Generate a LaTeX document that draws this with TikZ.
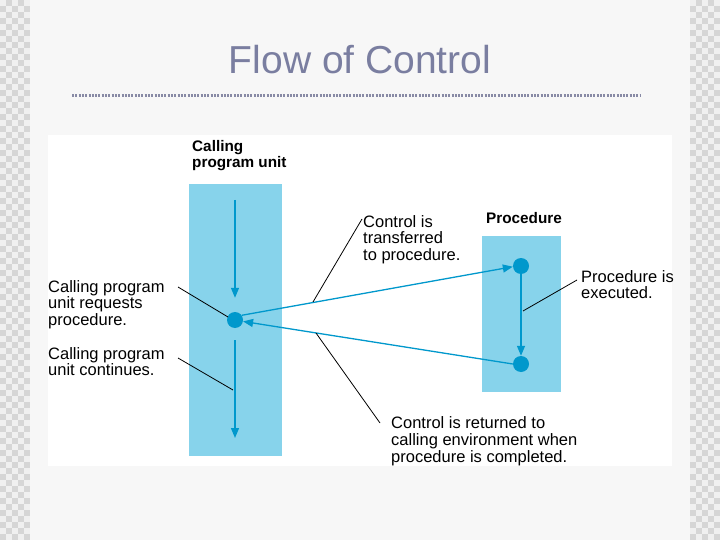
\documentclass[tikz,border=0pt]{standalone}
\usepackage{fontspec}
\setmainfont{Liberation Sans}
\usetikzlibrary{arrows.meta}
\definecolor{slidebg}{RGB}{247,247,247}
\definecolor{chkdark}{RGB}{214,214,214}
\definecolor{chklight}{RGB}{240,240,240}
\definecolor{titlecol}{RGB}{122,126,160}
\definecolor{dotline}{RGB}{136,138,165}
\definecolor{boxblue}{RGB}{135,211,235}
\definecolor{flowblue}{RGB}{0,152,204}
\begin{document}
\begin{tikzpicture}[x=1pt,y=-1pt,
 lbl/.style={font=\fontsize{16.5}{16.7}\selectfont, align=left, inner sep=0pt, anchor=north west},
 hdr/.style={font=\bfseries\fontsize{15.3}{16.2}\selectfont, align=left, inner sep=0pt, anchor=north west},
 leader/.style={draw=black, line width=0.8pt},
 flow/.style={draw=flowblue, line width=1.3pt, -{Triangle[length=10pt,width=8pt]}},
 fdot/.style={circle, fill=flowblue, minimum size=16pt, inner sep=0pt},
 unitbox/.style={fill=boxblue, draw=none, inner sep=0pt, anchor=north west}]

\useasboundingbox (0,0) rectangle (720,540);
\fill[slidebg] (0,0) rectangle (720,540);

% checkerboard strips
\fill[chklight] (0,0) rectangle (30,540);
\fill[chklight] (690,0) rectangle (720,540);
\foreach \i in {0,...,4}{
  \foreach \j in {0,...,89}{
    \pgfmathtruncatemacro\k{mod(\i+\j,2)}
    \ifnum\k=1
      \fill[chkdark] (\i*6,\j*6) rectangle ++(6,6);
      \fill[chkdark] (690+\i*6,\j*6) rectangle ++(6,6);
    \fi
  }
}

% title and rule
\node[font=\fontsize{39}{41}\selectfont, text=titlecol, anchor=base, inner sep=0pt] (title) at (360,73.5) {Flow of Control};
\coordinate (ruleL) at (72,95.5);
\coordinate (ruleR) at (640,95.5);
\draw[dotline, line width=2.2pt, dash pattern=on 2pt off 1.3pt] (ruleL) -- (ruleR);

% white panel
\fill[white] (48,135) rectangle (672,466);

% unit boxes
\node[unitbox, minimum width=93pt, minimum height=272pt] (callbox) at (189,184) {};
\node[unitbox, minimum width=79pt, minimum height=156pt] (procbox) at (482,236) {};

% headers
\node[hdr] (callhdr) at (192,140.5) {Calling\\program unit};
\node[hdr] (prochdr) at (486,212) {Procedure};

% dots
\node[fdot] (cdot) at (235,320) {};
\node[fdot] (pdot1) at (521,266) {};
\node[fdot] (pdot2) at (521,364) {};
\coordinate (ctop) at (235,200);
\coordinate (cend) at (235,438);

% flow arrows
\draw[flow, shorten >=14pt] (ctop) -- (cdot);
\draw[flow, shorten <=12pt] (cdot) -- (cend);
\draw[flow] (pdot1) -- (pdot2);
\draw[flow] (cdot.35) -- (pdot1.185);
\draw[flow] (pdot2.180) -- (cdot.-10);

% labels
\node[lbl] (req) at (48,280) {Calling program\\unit requests\\procedure.};
\node[lbl] (cont) at (48,347) {Calling program\\unit continues.};
\node[lbl] (trans) at (363,215) {Control is\\transferred\\to procedure.};
\node[lbl] (exec) at (581,270) {Procedure is\\executed.};
\node[lbl] (ret) at (391,416.5) {Control is returned to\\calling environment when\\procedure is completed.};

% leader lines
\coordinate (reqA) at (178,287);   \coordinate (reqB) at (228,317);
\coordinate (contA) at (178,358);  \coordinate (contB) at (233,390);
\coordinate (transA) at (362,219); \coordinate (transB) at (313,302);
\coordinate (execA) at (577,280);  \coordinate (execB) at (523,311);
\coordinate (retA) at (380,423);   \coordinate (retB) at (316,333);
\draw[leader] (reqA) -- (reqB);
\draw[leader] (contA) -- (contB);
\draw[leader] (transA) -- (transB);
\draw[leader] (execA) -- (execB);
\draw[leader] (retA) -- (retB);
\end{tikzpicture}
\end{document}
